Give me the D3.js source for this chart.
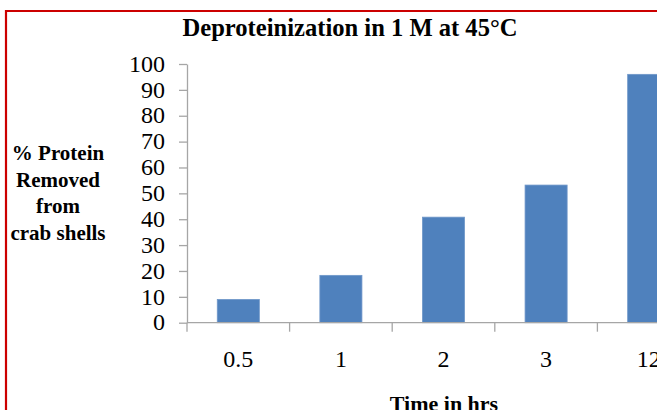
<!DOCTYPE html>
<html>
<head>
<meta charset="utf-8">
<script src="https://cdn.jsdelivr.net/npm/d3@7"></script>
<style>
  html, body { margin: 0; padding: 0; background: #ffffff; overflow: hidden; }
  svg { display: block; }
  text { font-family: "Liberation Serif", "Times New Roman", serif; fill: #000; }
</style>
</head>
<body>
<svg id="chart" width="657" height="410"></svg>
<script>
// Deproteinization of crab shells in 1 M at 45°C
const categories = ["0.5", "1", "2", "3", "12"];
const proteinRemoved = [9.0, 18.3, 40.8, 53.2, 96.0];
const yTicks = [0, 10, 20, 30, 40, 50, 60, 70, 80, 90, 100];
const chartTitle = "Deproteinization in 1 M at 45°C";
const yTitleLines = ["% Protein", "Removed", "from", "crab shells"];
const xTitle = "Time in hrs";

const svg = d3.select("#chart");
const W = 657, H = 410;

// plot area (extends past the right edge, the last bar is cut off)
const plot = { left: 187, right: 700, top: 64, bottom: 322.7 };

const x = d3.scaleBand()
  .domain(categories)
  .range([plot.left, plot.right])
  .paddingInner(0.59)
  .paddingOuter(0.295);

const y = d3.scaleLinear()
  .domain([0, 100])
  .range([plot.bottom, plot.top]);

// red frame on the left and top
svg.append("path")
  .attr("d", `M6,${H} V11 H${W}`)
  .attr("fill", "none")
  .attr("stroke", "#cc0000")
  .attr("stroke-width", 2.2);

// title
svg.append("text")
  .attr("x", 350)
  .attr("y", 36)
  .attr("text-anchor", "middle")
  .attr("font-weight", "bold")
  .attr("font-size", 25)
  .attr("textLength", 335)
  .attr("lengthAdjust", "spacingAndGlyphs")
  .text(chartTitle);

// bars
svg.append("g")
  .selectAll("rect")
  .data(proteinRemoved)
  .join("rect")
  .attr("x", (d, i) => x(categories[i]))
  .attr("y", d => y(d))
  .attr("width", x.bandwidth())
  .attr("height", d => y(0) - y(d))
  .attr("fill", "#4f81bd")
  .attr("stroke", "#6f97c9")
  .attr("stroke-width", 0.8);

// y axis
const yAxis = svg.append("g")
  .attr("transform", `translate(${plot.left},0)`)
  .call(d3.axisLeft(y).tickValues(yTicks).tickSize(8).tickSizeOuter(0).tickPadding(14));
yAxis.select(".domain").attr("stroke", "#a6a6a6").attr("stroke-width", 1.3);
yAxis.selectAll(".tick line").attr("stroke", "#a6a6a6").attr("stroke-width", 1.3);
yAxis.selectAll(".tick text")
  .attr("font-family", "Liberation Serif, serif")
  .attr("font-size", 24)
  .attr("dy", "0.3em")
  .attr("fill", "#000");

// x axis line and tick marks at category boundaries
const xg = svg.append("g");
xg.append("line")
  .attr("x1", plot.left).attr("x2", W)
  .attr("y1", y(0)).attr("y2", y(0))
  .attr("stroke", "#a6a6a6").attr("stroke-width", 1.3);
xg.selectAll("line.tk")
  .data(categories.map((c, i) => plot.left + i * x.step()))
  .join("line")
  .attr("class", "tk")
  .attr("x1", d => d).attr("x2", d => d)
  .attr("y1", y(0)).attr("y2", y(0) + 9)
  .attr("stroke", "#a6a6a6").attr("stroke-width", 1.3);
xg.selectAll("text")
  .data(categories)
  .join("text")
  .attr("x", d => x(d) + x.bandwidth() / 2)
  .attr("y", 367)
  .attr("text-anchor", "middle")
  .attr("font-size", 24)
  .text(d => d);

// axis titles
const yt = svg.append("text")
  .attr("text-anchor", "middle")
  .attr("font-weight", "bold")
  .attr("font-size", 21);
yTitleLines.forEach((line, i) => {
  yt.append("tspan")
    .attr("x", 58)
    .attr("y", 160 + i * 26.5)
    .text(line);
});

svg.append("text")
  .attr("x", 444)
  .attr("y", 411)
  .attr("text-anchor", "middle")
  .attr("font-weight", "bold")
  .attr("font-size", 22)
  .text(xTitle);
</script>
</body>
</html>
